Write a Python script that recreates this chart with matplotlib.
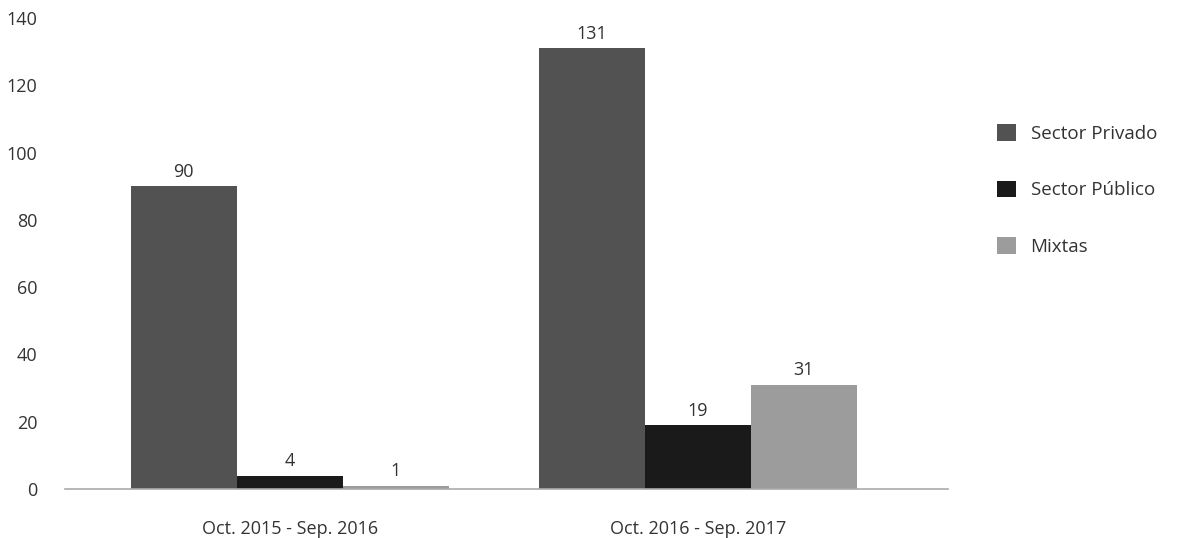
import matplotlib
matplotlib.use("Agg")
import matplotlib.pyplot as plt
import numpy as np

plt.rcParams['font.family'] = ['Open Sans', 'DejaVu Sans']

periods = ["Oct. 2015 - Sep. 2016", "Oct. 2016 - Sep. 2017"]
series_names = ["Sector Privado", "Sector Público", "Mixtas"]
privado = [90, 131]
publico = [4, 19]
mixtas = [1, 31]
colors = ["#525252", "#1a1a1a", "#9c9c9c"]
yticks = [0, 20, 40, 60, 80, 100, 120, 140]

fig = plt.figure(figsize=(11.85, 5.38), dpi=100)
ax = fig.add_axes([65/1185, 1 - 489/538, (948-65)/1185, (489-18)/538])

x = np.arange(len(periods))
w = 0.26
for i, (vals, name, c) in enumerate(zip([privado, publico, mixtas], series_names, colors)):
    pos = x + (i - 1) * w
    bars = ax.bar(pos, vals, width=w, color=c, label=name, zorder=2)
    for b, v in zip(bars, vals):
        ax.annotate(str(v), (b.get_x() + b.get_width()/2, v), xytext=(0, 4),
                    textcoords="offset points", ha="center", va="bottom",
                    fontsize=13, color="#333333")

ax.set_xlim(-0.551, 1.613)
ax.set_ylim(0, 140)
ax.set_yticks(yticks)
ax.set_xticks(x)
ax.set_xticklabels(periods)
for s in ["top", "right", "left"]:
    ax.spines[s].set_visible(False)
ax.spines["bottom"].set_color("#aaaaaa")
ax.spines["bottom"].set_linewidth(1.2)
ax.tick_params(axis="both", length=0, labelsize=13, labelcolor="#333333")
ax.tick_params(axis="y", pad=20)
ax.tick_params(axis="x", pad=22)

fig.legend(loc="center left", bbox_to_anchor=(980/1185, 1 - 190/538), frameon=False,
           fontsize=13.5, handlelength=1.0, handleheight=1.0, labelspacing=2.0,
           handletextpad=0.8, labelcolor="#333333")

fig.savefig("out.png", dpi=100)
